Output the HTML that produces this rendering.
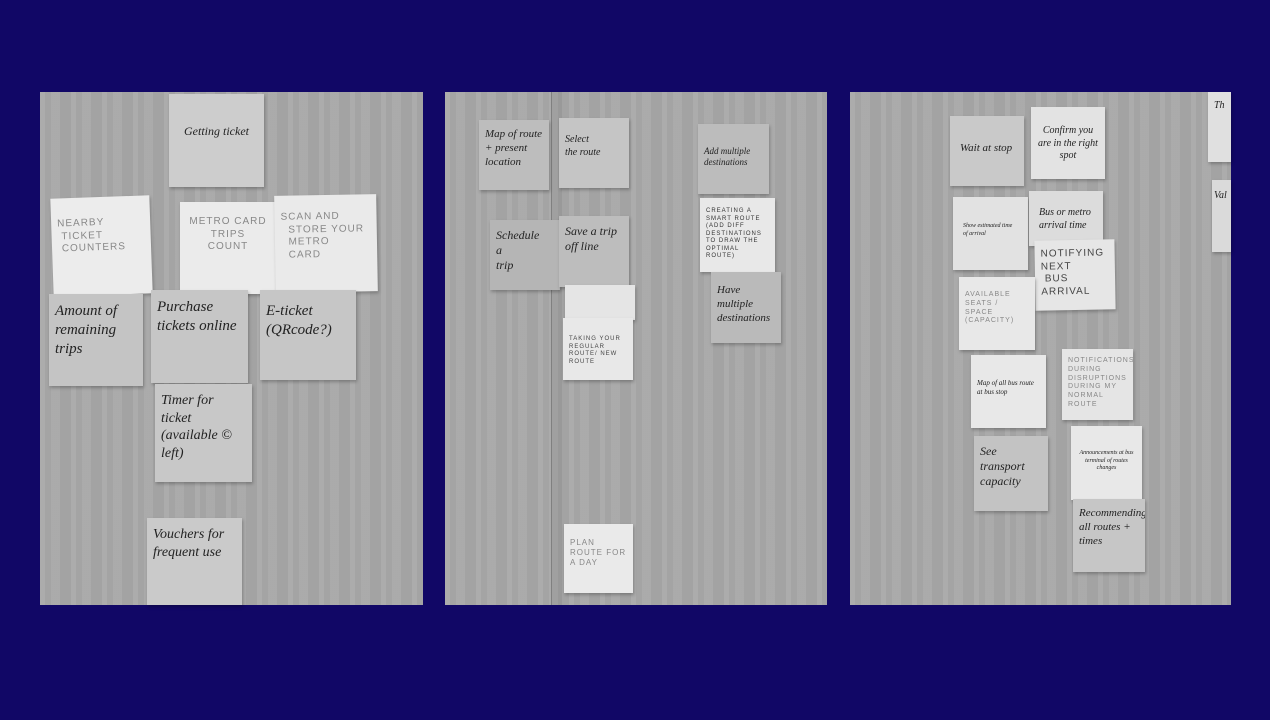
<!DOCTYPE html>
<html><head><meta charset="utf-8"><style>
body{margin:0;width:1270px;height:720px;background:#110766;position:relative;overflow:hidden;font-family:"Liberation Sans",sans-serif}
.p{position:absolute;top:92px;height:513px;background:#a9a9a9;background-image:repeating-linear-gradient(90deg,rgba(255,255,255,.04) 0 5px,rgba(0,0,0,.03) 5px 11px,rgba(255,255,255,.02) 11px 20px,rgba(0,0,0,.035) 20px 31px);overflow:hidden}
.n{position:absolute;box-shadow:1px 2px 3px rgba(0,0,0,.25);color:#222;font-size:12px;line-height:1.25;padding:8px 6px;box-sizing:border-box;font-family:"Liberation Serif",serif;font-style:italic;overflow:hidden}
.w{color:#888;font-style:normal;font-size:10px;letter-spacing:1px;font-family:"Liberation Sans",sans-serif}
.b{font-size:15px}
</style></head><body>
<div class="p" style="left:40px;width:383px"></div>
<div class="p" style="left:445px;width:382px"><div style="position:absolute;left:106px;top:0;width:10px;height:513px;background:rgba(0,0,0,.06);border-left:1px solid #808080"></div></div>
<div class="p" style="left:850px;width:381px"></div>

<div class="n" style="left:169px;top:94px;width:95px;height:93px;background:#cdcdcd;padding-top:30px;text-align:center">Getting ticket</div>
<div class="n w" style="left:52px;top:197px;width:99px;height:98px;background:#ececec;transform:rotate(-2deg);padding-top:20px">NEARBY<br>&nbsp;TICKET<br>&nbsp;COUNTERS</div>
<div class="n w" style="left:180px;top:202px;width:96px;height:92px;background:#ebebeb;padding-top:14px;text-align:center">METRO CARD<br>TRIPS<br>COUNT</div>
<div class="n w" style="left:275px;top:195px;width:102px;height:97px;background:#eaeaea;transform:rotate(-1deg);padding-top:16px">SCAN AND<br>&nbsp;&nbsp;STORE YOUR<br>&nbsp;&nbsp;METRO<br>&nbsp;&nbsp;CARD</div>
<div class="n b" style="left:49px;top:294px;width:94px;height:92px;background:#c4c4c4">Amount of<br>remaining<br>trips</div>
<div class="n b" style="left:151px;top:290px;width:97px;height:93px;background:#c6c6c6">Purchase<br>tickets online</div>
<div class="n b" style="left:260px;top:290px;width:96px;height:90px;background:#c6c6c6;padding-top:12px">E-ticket<br>(QRcode?)</div>
<div class="n" style="left:155px;top:384px;width:97px;height:98px;background:#c8c8c8;font-size:14px">Timer for<br>ticket<br>(available ©<br>left)</div>
<div class="n" style="left:147px;top:518px;width:95px;height:87px;background:#cacaca;font-size:14px">Vouchers for<br>frequent use</div>

<div class="n" style="left:479px;top:120px;width:70px;height:70px;background:#bdbdbd;font-size:11px">Map of route<br>+ present<br>location</div>
<div class="n" style="left:559px;top:118px;width:70px;height:70px;background:#c5c5c5;font-size:10px;padding-top:16px">Select<br>the route</div>
<div class="n" style="left:698px;top:124px;width:71px;height:70px;background:#bcbcbc;font-size:9px;padding-top:22px">Add multiple destinations</div>
<div class="n w" style="left:700px;top:198px;width:75px;height:74px;background:#e8e8e8;font-size:6px;color:#333;padding-top:10px">CREATING A SMART ROUTE (ADD DIFF DESTINATIONS TO DRAW THE OPTIMAL ROUTE)</div>
<div class="n" style="left:711px;top:272px;width:70px;height:71px;background:#bababa;font-size:11px;padding-top:12px">Have multiple<br>destinations</div>
<div class="n" style="left:490px;top:220px;width:70px;height:70px;background:#b5b5b5">Schedule<br>a<br>trip</div>
<div class="n" style="left:559px;top:216px;width:70px;height:71px;background:#bdbdbd">Save a trip<br>off line</div>
<div class="n" style="left:565px;top:285px;width:70px;height:35px;background:#e5e5e5"></div>
<div class="n w" style="left:563px;top:318px;width:70px;height:62px;background:#e8e8e8;font-size:6px;color:#444;padding-top:18px">TAKING YOUR REGULAR ROUTE/ NEW ROUTE</div>
<div class="n w" style="left:564px;top:524px;width:69px;height:69px;background:#eaeaea;font-size:8px;padding-top:14px">PLAN ROUTE FOR A DAY</div>

<div class="n" style="left:950px;top:116px;width:74px;height:70px;background:#c9c9c9;font-size:11px;padding:26px 10px">Wait at stop</div>
<div class="n" style="left:1031px;top:107px;width:74px;height:72px;background:#e3e3e3;font-size:10px;text-align:center;padding-top:18px">Confirm you are in the right spot</div>
<div class="n" style="left:1208px;top:92px;width:23px;height:70px;background:#e0e0e0;font-size:10px">Th</div>
<div class="n" style="left:1212px;top:180px;width:19px;height:72px;background:#dadada;font-size:10px;padding:10px 2px">Val</div>
<div class="n" style="left:953px;top:197px;width:75px;height:73px;background:#e2e2e2;font-size:6px;padding:26px 10px">Show estimated time of arrival</div>
<div class="n" style="left:1029px;top:191px;width:74px;height:55px;background:#dcdcdc;font-size:10px;padding:16px 10px">Bus or metro arrival time</div>
<div class="n w" style="left:1035px;top:240px;width:80px;height:70px;background:#e6e6e6;color:#444;font-size:10px;transform:rotate(-1deg)">NOTIFYING<br>NEXT<br>&nbsp;BUS<br>ARRIVAL</div>
<div class="n w" style="left:959px;top:277px;width:76px;height:73px;background:#e8e8e8;font-size:7px;padding-top:14px">AVAILABLE SEATS / SPACE (CAPACITY)</div>
<div class="n" style="left:971px;top:355px;width:75px;height:73px;background:#e8e8e8;font-size:7px;padding-top:24px">Map of all bus route at bus stop</div>
<div class="n w" style="left:1062px;top:349px;width:71px;height:71px;background:#e5e5e5;font-size:7px">NOTIFICATIONS DURING DISRUPTIONS DURING MY NORMAL ROUTE</div>
<div class="n" style="left:974px;top:436px;width:74px;height:75px;background:#c3c3c3;font-size:12px">See transport capacity</div>
<div class="n" style="left:1071px;top:426px;width:71px;height:74px;background:#e8e8e8;font-size:6px;padding-top:24px;text-align:center">Announcements at bus terminal of routes changes</div>
<div class="n" style="left:1073px;top:499px;width:72px;height:73px;background:#c6c6c6;font-size:11px">Recommending all routes + times</div>
</body></html>
